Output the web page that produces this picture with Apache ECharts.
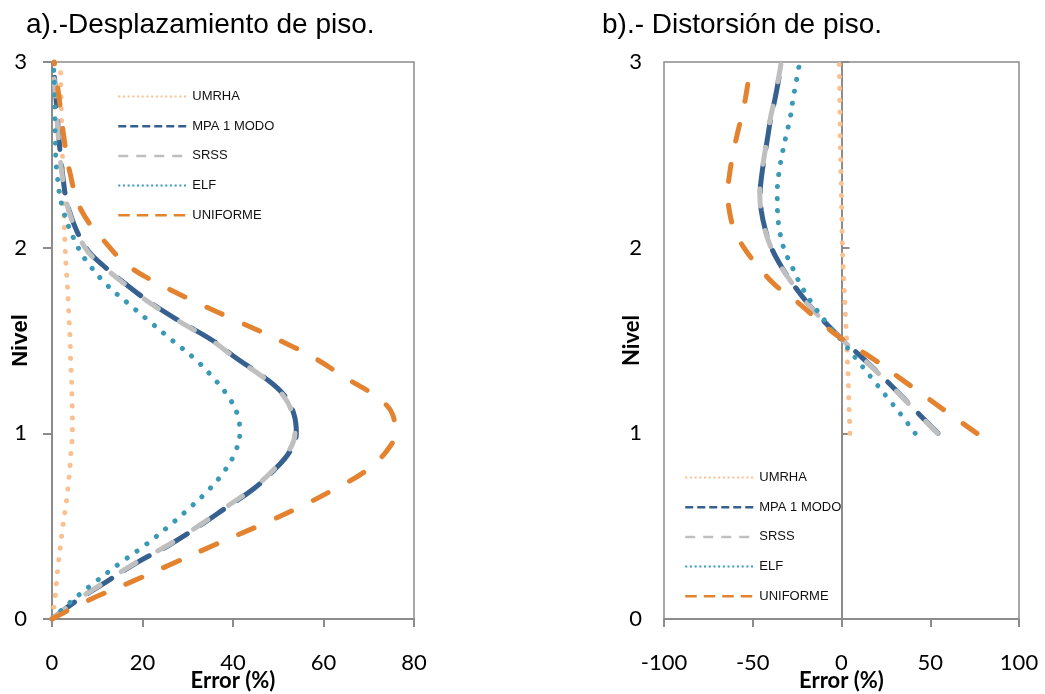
<!DOCTYPE html>
<html>
<head>
<meta charset="utf-8">
<script src="https://cdn.jsdelivr.net/npm/echarts@6/dist/echarts.min.js"></script>
<style>
  html, body { margin: 0; padding: 0; background: #fff; }
  #chart { width: 1045px; height: 694px; }
</style>
</head>
<body>
<div id="chart"></div>
<script>
// series names, in the order they are drawn
const seriesNames = ['UMRHA', 'MPA 1 MODO', 'SRSS', 'ELF', 'UNIFORME'];

// a) Desplazamiento de piso: error (%) read at each level
const levelsA = [0, 0.1, 0.2, 0.3, 0.4, 0.5, 0.6, 0.7, 0.8, 0.9, 1.0, 1.1, 1.2, 1.3, 1.4, 1.5, 1.6, 1.7, 1.8, 1.9, 2.0, 2.2, 2.4, 2.6, 2.8, 3.0];
const umrhaA = [0, 0.6, 1.0, 1.4, 1.9, 2.4, 3.0, 3.5, 3.9, 4.2, 4.5, 4.5, 4.4, 4.3, 4.1, 4.0, 3.8, 3.6, 3.4, 3.1, 2.9, 2.6, 2.4, 2.2, 2.0, 1.9];
const mpaA = [0, 5.5, 12, 18.5, 26, 32.5, 38.5, 44.5, 49, 52.5, 54, 53.5, 51.5, 47, 41, 35.5, 28.5, 22, 16.5, 11.5, 7.5, 3.8, 2.3, 1.5, 0.9, 0.3];
const srssA = [0, 5.4, 11.8, 18.3, 25.8, 32.3, 38.3, 44.2, 48.8, 52.2, 53.7, 53.2, 51.2, 46.8, 40.8, 35.3, 28.3, 21.8, 16.3, 11.3, 7.3, 3.7, 2.2, 1.4, 0.8, 0.2];
const elfA = [0, 4.5, 9.6, 15, 20.7, 25.8, 30.5, 34.8, 38.2, 40.5, 41.5, 41, 38.9, 35.6, 31.6, 26.6, 21.7, 16.8, 12.1, 8.5, 5.8, 2.5, 1.1, 0.7, 0.6, 0.3];
const unifA = [0, 8, 17.5, 26.8, 36, 45.5, 54.5, 62.5, 69.5, 73.8, 75.8, 75.3, 71.5, 64.8, 58.4, 50.4, 41.4, 32.4, 24, 17, 12.8, 6.5, 4.0, 2.6, 1.6, 0.5];

// b) Distorsion de piso: error (%) read at each level
const levelsB = [1.0, 1.1, 1.2, 1.3, 1.4, 1.5, 1.6, 1.7, 1.8, 1.9, 2.0, 2.1, 2.2, 2.3, 2.4, 2.5, 2.6, 2.7, 2.8, 2.9, 3.0];
const umrhaB = [4.7, 4.4, 4.0, 3.7, 3.3, 2.9, 2.4, 1.9, 1.4, 0.9, 0.5, 0.3, 0.1, -0.1, -0.3, -0.5, -0.7, -0.8, -1.0, -1.1, -1.3];
const mpaB = [54.4, 44, 34, 23.5, 12.5, 1, -9.5, -19, -27, -34, -39.5, -43, -45.2, -45.8, -44.8, -43.2, -41.5, -39.8, -37.5, -35.5, -33.7];
const srssB = [54.2, 43.8, 33.8, 23.3, 12.3, 0.8, -9.7, -19.2, -27.2, -34.2, -39.7, -43.2, -45.4, -46, -45, -43.4, -41.7, -40, -37.7, -35.7, -33.9];
const elfB = [41.5, 33.6, 25.2, 16.8, 8.4, 0, -8.8, -16.6, -23, -28, -32.6, -35, -36.1, -36.2, -35.3, -33.5, -31.3, -28.9, -27.3, -25.4, -23.5];
const unifB = [76.3, 61.5, 47, 32.5, 18, 1.5, -12, -24, -37.5, -47, -55, -60.5, -63.2, -64, -63, -61.2, -59, -56.5, -54.2, -52.5, -51];

// tick labels
const xTicksA = [0, 20, 40, 60, 80];
const xTicksB = [-100, -50, 0, 50, 100];
const yTicks = [0, 1, 2, 3];

// line looks in the plot and in the legend
const plotStyles = {
	'UMRHA':      { color: '#FAC090', width: 5, type: [0.1, 11.8], cap: 'round' },
	'MPA 1 MODO': { color: '#35608F', width: 5, type: [28, 16], cap: 'round' },
	'SRSS':       { color: '#BFBFBF', width: 5, type: [17, 25], cap: 'round' },
	'ELF':        { color: '#3A9AB6', width: 5, type: [0.1, 12], cap: 'round' },
	'UNIFORME':   { color: '#E3832F', width: 5, type: [17, 24], cap: 'round' }
};
const legendStyles = {
	'UMRHA':      { width: 2, type: [2, 2.7] },
	'MPA 1 MODO': { width: 2.5, type: [8, 4] },
	'SRSS':       { width: 2.5, type: [10, 8] },
	'ELF':        { width: 2, type: [2, 2.7] },
	'UNIFORME':   { width: 2.5, type: [11.5, 7] }
};

const axisGray = '#8C8C8C';
const tickFont = 'Lato';

function pairs(xs, ys){
	return ys.map(function(y, i){ return [xs[i], y]; });
}

function makeSeries(name, xs, ys, xi, yi){
	var st = plotStyles[name];
	return {
		name: name,
		type: 'line',
		xAxisIndex: xi,
		yAxisIndex: yi,
		data: pairs(xs, ys),
		smooth: 0.4,
		symbol: 'none',
		clip: false,
		color: st.color,
		lineStyle: { color: st.color, width: st.width, type: st.type, cap: st.cap }
	};
}

// legend keeps only the line, the circle symbol is made invisible
function legendData(){
	return seriesNames.map(function(n){
		return {
			name: n,
			itemStyle: { opacity: 0, color: 'rgba(0,0,0,0)', borderWidth: 0 },
			lineStyle: { color: plotStyles[n].color, width: legendStyles[n].width, type: legendStyles[n].type, cap: 'butt', opacity: 1 }
		};
	});
}

function xAxisOf(grid, ticks){
	return {
		type: 'value',
		gridIndex: grid,
		min: ticks[0],
		max: ticks[ticks.length - 1],
		interval: ticks[1] - ticks[0],
		name: 'Error (%)',
		nameLocation: 'middle',
		nameGap: 51,
		nameMoveOverlap: false,
		nameTextStyle: { fontFamily: tickFont, fontWeight: 'bold', fontSize: 22, color: '#000' },
		axisLine: { show: true, lineStyle: { color: axisGray, width: 2 } },
		axisTick: { show: true, length: 8, lineStyle: { color: axisGray, width: 2 } },
		axisLabel: { fontFamily: tickFont, fontSize: 22, color: '#000', margin: 33 },
		splitLine: { show: false }
	};
}

var yBase = {
	type: 'value',
	min: yTicks[0],
	max: yTicks[yTicks.length - 1],
	interval: yTicks[1] - yTicks[0],
	splitLine: { show: false }
};

var option = {
	animation: false,
	backgroundColor: '#fff',
	title: [
		{ text: 'a).-Desplazamiento de piso.', left: 21, top: 6,
			textStyle: { fontFamily: 'Liberation Sans', fontSize: 28, fontWeight: 'normal', color: '#000' } },
		{ text: 'b).- Distorsión de piso.', left: 597, top: 6,
			textStyle: { fontFamily: 'Liberation Sans', fontSize: 28, fontWeight: 'normal', color: '#000' } }
	],
	grid: [
		{ left: 52, top: 62, width: 362, height: 557, outerBoundsMode: 'none', containLabel: false,
			show: true, borderColor: axisGray, borderWidth: 1.5 },
		{ left: 664, top: 62, width: 355, height: 557, outerBoundsMode: 'none', containLabel: false,
			show: true, borderColor: axisGray, borderWidth: 1.5 }
	],
	legend: [
		{ orient: 'vertical', left: 112, top: 85, itemWidth: 69, itemHeight: 14, itemGap: 16.7,
			selectedMode: false, data: legendData(),
			textStyle: { fontFamily: 'Liberation Sans', fontSize: 13, color: '#111' } },
		{ orient: 'vertical', left: 679, top: 466, itemWidth: 69, itemHeight: 14, itemGap: 16.7,
			selectedMode: false, data: legendData(),
			textStyle: { fontFamily: 'Liberation Sans', fontSize: 13, color: '#111' } }
	],
	xAxis: [ xAxisOf(0, xTicksA), xAxisOf(1, xTicksB) ],
	yAxis: [
		Object.assign({}, yBase, {
			gridIndex: 0,
			name: 'Nivel',
			nameLocation: 'middle',
			nameGap: 20,
			nameMoveOverlap: false,
			nameTextStyle: { fontFamily: 'Liberation Sans', fontWeight: 'bold', fontSize: 22, color: '#000' },
			axisLine: { show: true, onZero: false, lineStyle: { color: axisGray, width: 2 } },
			axisTick: { show: true, length: 9, lineStyle: { color: axisGray, width: 2 } },
			axisLabel: { fontFamily: tickFont, fontSize: 22, color: '#000', margin: 25 }
		}),
		// labels on the left border of b)
		Object.assign({}, yBase, {
			gridIndex: 1,
			name: 'Nivel',
			nameLocation: 'middle',
			nameGap: 21,
			nameMoveOverlap: false,
			nameTextStyle: { fontFamily: tickFont, fontWeight: 'bold', fontSize: 22, color: '#000' },
			axisLine: { show: false, onZero: false },
			axisTick: { show: false },
			axisLabel: { fontFamily: tickFont, fontSize: 22, color: '#000', margin: 22 }
		}),
		// the zero line of b)
		Object.assign({}, yBase, {
			gridIndex: 1,
			axisLine: { show: true, onZero: true, lineStyle: { color: axisGray, width: 2 } },
			axisTick: { show: true, length: 8, lineStyle: { color: axisGray, width: 2 } },
			axisLabel: { show: false }
		})
	],
	series: [
		makeSeries('UMRHA', umrhaA, levelsA, 0, 0),
		makeSeries('MPA 1 MODO', mpaA, levelsA, 0, 0),
		makeSeries('SRSS', srssA, levelsA, 0, 0),
		makeSeries('ELF', elfA, levelsA, 0, 0),
		makeSeries('UNIFORME', unifA, levelsA, 0, 0),
		makeSeries('UMRHA', umrhaB, levelsB, 1, 2),
		makeSeries('MPA 1 MODO', mpaB, levelsB, 1, 2),
		makeSeries('SRSS', srssB, levelsB, 1, 2),
		makeSeries('ELF', elfB, levelsB, 1, 2),
		makeSeries('UNIFORME', unifB, levelsB, 1, 2)
	]
};

var chart = echarts.init(document.getElementById('chart'), null, { renderer: 'canvas' });
chart.setOption(option);
</script>
</body>
</html>
